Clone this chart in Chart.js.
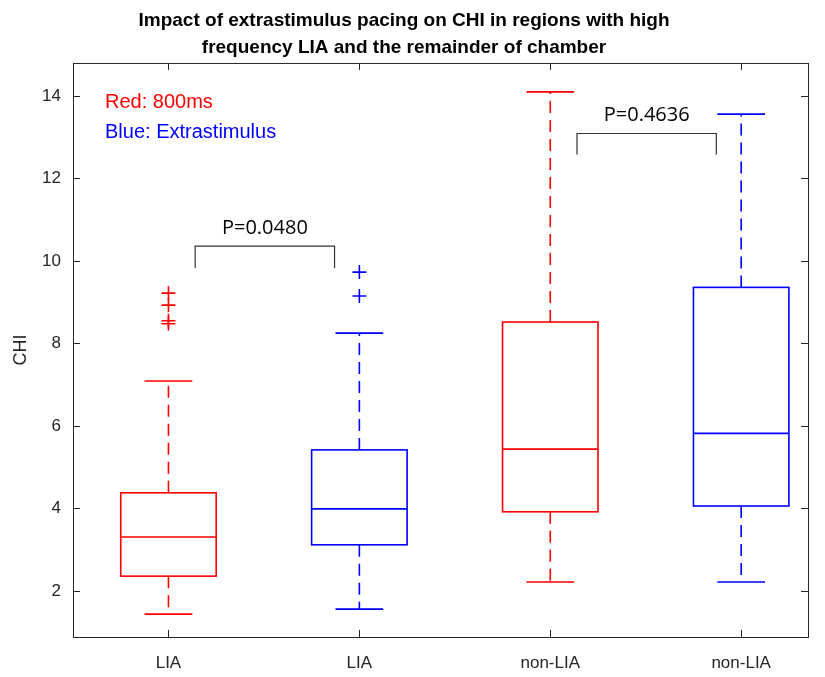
<!DOCTYPE html>
<html>
<head>
<meta charset="utf-8">
<script src="https://cdn.jsdelivr.net/npm/chart.js@4.4.1/dist/chart.umd.min.js"></script>
<style>
  html, body { margin: 0; padding: 0; background: #fff; }
  #wrap { width: 825px; height: 677px; }
</style>
</head>
<body>
<div id="wrap"><canvas id="chi"></canvas></div>
<script>
// groups along the x axis
const categories = ["LIA", "LIA", "non-LIA", "non-LIA"];

// box statistics per group
const whiskerLow = [1.44, 1.56, 2.22, 2.22];
const q1 = [2.36, 3.12, 3.92, 4.06];
const median = [3.31, 3.99, 5.44, 5.82];
const q3 = [4.38, 5.42, 8.52, 9.36];
const whiskerHigh = [7.09, 8.25, 14.1, 13.56];
const outliers = [[9.22, 8.93, 8.55, 8.48], [9.73, 9.15], [], []];

const yTicks = [2, 4, 6, 8, 10, 12, 14];

// rank-test results between the paired groups
const pairs = [[0, 1], [2, 3]];
const pLabels = ["P=0.0480", "P=0.4636"];

const colors = ["#ff0000", "#0000ff", "#ff0000", "#0000ff"];
const axisColor = "#262626";

const outlierSets = categories.map((c, i) => ({
  label: c,
  data: outliers[i].map((v) => ({ x: i + 1, y: v })),
  pointStyle: "cross",
  pointRadius: 7,
  pointHoverRadius: 7,
  borderColor: colors[i],
  borderWidth: 1.6,
}));

const boxPlugin = {
  id: "boxes",
  afterDatasetsDraw(chart) {
    const { ctx, chartArea: a } = chart;
    const x = chart.scales.x;
    const y = chart.scales.y;
    ctx.save();

    // frame with inward ticks
    ctx.strokeStyle = axisColor;
    ctx.lineWidth = 1;
    ctx.strokeRect(a.left + 0.5, a.top + 0.5, a.right - a.left, a.bottom - a.top);
    ctx.beginPath();
    yTicks.forEach((v) => {
      const py = Math.round(y.getPixelForValue(v)) + 0.5;
      ctx.moveTo(a.left, py); ctx.lineTo(a.left + 7, py);
      ctx.moveTo(a.right, py); ctx.lineTo(a.right - 7, py);
    });
    categories.forEach((c, i) => {
      const px = Math.round(x.getPixelForValue(i + 1)) + 0.5;
      ctx.moveTo(px, a.bottom); ctx.lineTo(px, a.bottom - 7);
      ctx.moveTo(px, a.top); ctx.lineTo(px, a.top + 7);
    });
    ctx.stroke();

    // boxes and whiskers
    categories.forEach((c, i) => {
      const cx = x.getPixelForValue(i + 1);
      const halfBox = (x.getPixelForValue(1.25) - x.getPixelForValue(1));
      const halfCap = halfBox / 2;
      const yLo = y.getPixelForValue(whiskerLow[i]);
      const yQ1 = y.getPixelForValue(q1[i]);
      const yMed = y.getPixelForValue(median[i]);
      const yQ3 = y.getPixelForValue(q3[i]);
      const yHi = y.getPixelForValue(whiskerHigh[i]);
      ctx.strokeStyle = colors[i];
      ctx.lineWidth = 1.6;

      ctx.setLineDash([12, 7]);
      ctx.beginPath();
      ctx.moveTo(cx, yQ3); ctx.lineTo(cx, yHi);
      ctx.moveTo(cx, yQ1); ctx.lineTo(cx, yLo);
      ctx.stroke();
      ctx.setLineDash([]);

      ctx.beginPath();
      ctx.moveTo(cx - halfCap, yHi); ctx.lineTo(cx + halfCap, yHi);
      ctx.moveTo(cx - halfCap, yLo); ctx.lineTo(cx + halfCap, yLo);
      ctx.moveTo(cx - halfBox, yMed); ctx.lineTo(cx + halfBox, yMed);
      ctx.stroke();
      ctx.strokeRect(cx - halfBox, yQ3, 2 * halfBox, yQ1 - yQ3);
    });

    // significance brackets
    const levels = [[10.36, 9.83], [13.09, 12.58]];
    ctx.strokeStyle = "#333";
    ctx.lineWidth = 1.2;
    ctx.fillStyle = "#000";
    ctx.font = "20px 'Open Sans'";
    ctx.textAlign = "center";
    ctx.textBaseline = "middle";
    pairs.forEach(([a0, a1], k) => {
      const xl = x.getPixelForValue(a0 + 1 + 0.14);
      const xr = x.getPixelForValue(a1 + 1 - 0.13);
      const yt = y.getPixelForValue(levels[k][0]);
      const yb = y.getPixelForValue(levels[k][1]);
      ctx.beginPath();
      ctx.moveTo(xl, yb); ctx.lineTo(xl, yt); ctx.lineTo(xr, yt); ctx.lineTo(xr, yb);
      ctx.stroke();
      ctx.fillText(pLabels[k], (xl + xr) / 2, yt - 18);
    });

    // colour key
    ctx.textAlign = "left";
    ctx.font = "20px 'Liberation Sans', Arial, sans-serif";
    ctx.fillStyle = "#ff0000";
    ctx.fillText("Red: 800ms", a.left + 32, a.top + 40);
    ctx.fillStyle = "#0000ff";
    ctx.fillText("Blue: Extrastimulus", a.left + 32, a.top + 70);
    ctx.restore();
  },
};

new Chart(document.getElementById("chi"), {
  type: "scatter",
  data: { datasets: outlierSets },
  options: {
    responsive: true,
    maintainAspectRatio: false,
    animation: false,
    layout: { padding: { top: 0, right: 17, bottom: 0, left: 0 } },
    plugins: {
      legend: { display: false },
      tooltip: { enabled: false },
      title: {
        display: true,
        text: [
          "Impact of extrastimulus pacing on CHI in regions with high",
          "frequency LIA and the remainder of chamber",
        ],
        color: "#000",
        font: { family: "'Liberation Sans', Arial", size: 19, weight: "bold", lineHeight: 1.42 },
        padding: { top: 7, bottom: 2 },
      },
    },
    scales: {
      x: {
        type: "linear",
        min: 0.5,
        max: 4.35,
        afterBuildTicks: (axis) => {
          axis.ticks = categories.map((c, i) => ({ value: i + 1 }));
        },
        afterFit: (axis) => { axis.height = 40; },
        ticks: {
          callback: (v) => categories[v - 1],
          color: axisColor,
          font: { family: "'Liberation Sans', Arial", size: 17 },
          padding: 16,
          maxRotation: 0,
        },
        grid: { display: false, drawTicks: false },
        border: { display: false },
      },
      y: {
        min: 0.885,
        max: 14.8,
        afterBuildTicks: (axis) => {
          axis.ticks = yTicks.map((v) => ({ value: v }));
        },
        afterFit: (axis) => { axis.width = 73; },
        ticks: {
          color: axisColor,
          font: { family: "'Liberation Sans', Arial", size: 17 },
          padding: 12,
        },
        grid: { display: false, drawTicks: false },
        border: { display: false },
        title: {
          display: true,
          text: "CHI",
          color: axisColor,
          font: { family: "'Liberation Sans', Arial", size: 18 },
          padding: { top: 10, bottom: 0 },
        },
      },
    },
  },
  plugins: [boxPlugin],
});
</script>
</body>
</html>
